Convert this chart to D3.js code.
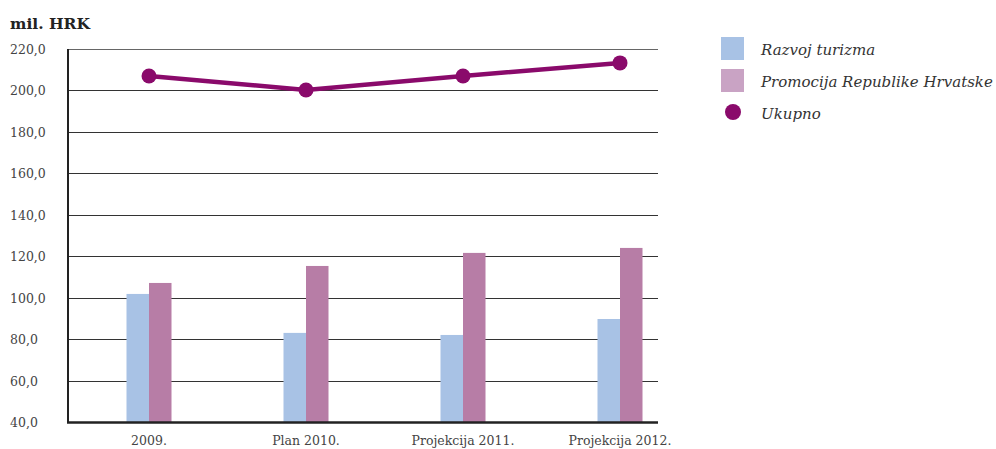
<!DOCTYPE html>
<html><head><meta charset="utf-8">
<script src="https://cdn.jsdelivr.net/npm/d3@7"></script>
<style>body{margin:0;background:#fff}svg{display:block}</style>
</head><body><svg id="c" width="996" height="449"></svg>
<script>
const categories = ["2009.", "Plan 2010.", "Projekcija 2011.", "Projekcija 2012."];
const razvoj = [101.8, 83.0, 82.0, 89.7];
const promocija = [107.1, 115.3, 121.6, 124.0];
const ukupno = [207.0, 200.2, 207.0, 213.3];
const yTicks = [40, 60, 80, 100, 120, 140, 160, 180, 200, 220];
const seriesNames = ["Razvoj turizma", "Promocija Republike Hrvatske", "Ukupno"];

(function () {
const svg = d3.select("#c");
const font = "'DejaVu Serif', serif";
const mLeft = 68, mRight = 658, mTop = 49, mBottom = 422;
const y = d3.scaleLinear().domain([40, 220]).range([mBottom, mTop]);
const x = d3.scalePoint().domain(categories).range([149, 620]);
const bw = 22.5;

// gridlines
svg.append("g").selectAll("line").data(yTicks.slice(1)).join("line")
  .attr("x1", mLeft).attr("x2", mRight)
  .attr("y1", d => Math.round(y(d)) + 0.5).attr("y2", d => Math.round(y(d)) + 0.5)
  .attr("stroke", d => d === 220 ? "#666" : "#333").attr("stroke-width", 1);

// y labels
svg.append("g").selectAll("text").data(yTicks).join("text")
  .attr("x", 10).attr("y", d => y(d) + 5)
  .attr("font-family", font).attr("font-size", 12.5).attr("fill", "#444")
  .text(d => d3.format(".1f")(d).replace(".", ","));

// bars
const g = svg.append("g");
g.selectAll("rect.r").data(razvoj).join("rect").attr("class", "r")
  .attr("x", (d, i) => x(categories[i]) - bw).attr("width", bw)
  .attr("y", d => y(d)).attr("height", d => y(40) - y(d)).attr("fill", "#a8c2e5");
g.selectAll("rect.p").data(promocija).join("rect").attr("class", "p")
  .attr("x", (d, i) => x(categories[i])).attr("width", bw)
  .attr("y", d => y(d)).attr("height", d => y(40) - y(d)).attr("fill", "#b77da6");

// axes lines
svg.append("line").attr("x1", mLeft).attr("x2", mLeft).attr("y1", mTop).attr("y2", mBottom + 1)
  .attr("stroke", "#222").attr("stroke-width", 2);
svg.append("line").attr("x1", mLeft - 1).attr("x2", mRight).attr("y1", mBottom + 0.5).attr("y2", mBottom + 0.5)
  .attr("stroke", "#222").attr("stroke-width", 2.5);

// x labels
svg.append("g").selectAll("text").data(categories).join("text")
  .attr("x", d => x(d)).attr("y", 445).attr("text-anchor", "middle")
  .attr("font-family", font).attr("font-size", 12.5).attr("fill", "#444").text(d => d);

// line
const line = d3.line().x((d, i) => x(categories[i])).y(d => y(d));
svg.append("path").datum(ukupno).attr("d", line).attr("fill", "none")
  .attr("stroke", "#8a0a6b").attr("stroke-width", 4.5);
svg.append("g").selectAll("circle").data(ukupno).join("circle")
  .attr("cx", (d, i) => x(categories[i])).attr("cy", d => y(d)).attr("r", 7.5).attr("fill", "#8a0a6b");

// title
svg.append("text").attr("x", 10).attr("y", 29).attr("font-family", font)
  .attr("font-weight", "bold").attr("font-size", 15.5).attr("fill", "#222").text("mil. HRK");

// legend
const lg = svg.append("g");
const legColors = ["#a8c2e5", "#c9a3c4"];
lg.selectAll("rect").data(legColors).join("rect")
  .attr("x", 721).attr("y", (d, i) => 37 + i * 32).attr("width", 23).attr("height", 23).attr("fill", d => d);
lg.append("circle").attr("cx", 733).attr("cy", 112).attr("r", 8).attr("fill", "#8a0a6b");
lg.selectAll("text").data(seriesNames).join("text")
  .attr("x", 761).attr("y", (d, i) => 55 + i * 32)
  .attr("font-family", font).attr("font-style", "italic").attr("font-size", 15).attr("fill", "#333")
  .text(d => d);
})();
</script></body></html>
